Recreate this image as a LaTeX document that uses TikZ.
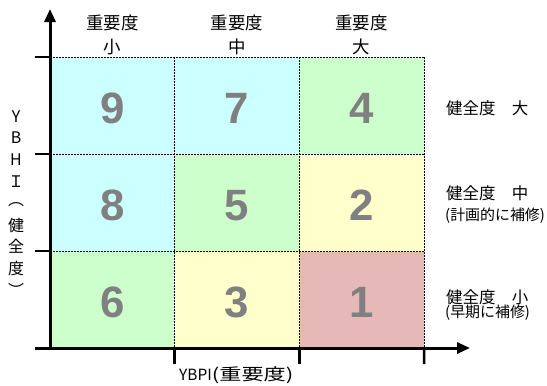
\documentclass[tikz,border=0pt]{standalone}
\usepackage{fontspec}
\setmainfont{Liberation Sans}
\newfontfamily\jp{Noto Sans CJK JP}
\newfontfamily\jpw[FakeStretch=1.35]{Noto Sans CJK JP}
\usetikzlibrary{arrows.meta}
\definecolor{cyanc}{HTML}{CCFFFF}
\definecolor{greenc}{HTML}{CCFFCC}
\definecolor{yellowc}{HTML}{FFFFCC}
\definecolor{pinkc}{HTML}{E6B8B7}
\definecolor{numgray}{HTML}{808080}
\begin{document}
\begin{tikzpicture}[x=1bp,y=-1bp,
  cell/.style={minimum width=124.7bp, minimum height=97bp, inner sep=0pt, outer sep=0pt,
    anchor=north west, text=numgray, text height=36bp, text depth=0pt,
    font=\fontsize{44}{44}\selectfont\bfseries},
  gridw/.style={white, line width=1bp},
  gridd/.style={black, line width=1bp, dash pattern=on 2bp off 1bp},
  axis/.style={black, line width=3bp},
  tick/.style={black, line width=2.5bp},
  tip/.style={-{Triangle[length=13bp,width=11bp]}},
  toplab/.style={font=\jp\fontsize{17.5}{17.5}\selectfont, inner sep=0pt},
  rlab/.style={font=\jp\fontsize{16.5}{16.5}\selectfont, inner sep=0pt, anchor=west},
  rsub/.style={font=\jp\fontsize{15}{15}\selectfont, inner sep=0pt, anchor=west},
  vlab/.style={font=\jp\fontsize{16}{16}\selectfont, inner sep=0pt},
  blab/.style={font=\jp\fontsize{15.5}{15.5}\selectfont, inner sep=0pt, anchor=west}]
\useasboundingbox (0,0) rectangle (547,385);
% cells
\node[cell, fill=cyanc]   (c11) at (50,57) {9};
\node[cell, fill=cyanc]   (c12) at (174.7,57) {7};
\node[cell, fill=greenc]  (c13) at (299.3,57) {4};
\node[cell, fill=cyanc]   (c21) at (50,154) {8};
\node[cell, fill=greenc]  (c22) at (174.7,154) {5};
\node[cell, fill=yellowc] (c23) at (299.3,154) {2};
\node[cell, fill=greenc]  (c31) at (50,251) {6};
\node[cell, fill=yellowc] (c32) at (174.7,251) {3};
\node[cell, fill=pinkc]   (c33) at (299.3,251) {1};
% dashed grid
\foreach \s in {gridw,gridd}{
  \draw[\s] (c11.north west) -- (c13.north east);
  \draw[\s] (c21.north west) -- (c23.north east);
  \draw[\s] (c31.north west) -- (c33.north east);
  \draw[\s] (c12.north west) -- (c32.south west);
  \draw[\s] (c13.north west) -- (c33.south west);
  \draw[\s] (c13.north east) -- (c33.south east);
}
% axes
\coordinate (o) at (50,349.5);
\coordinate (ytip) at (50,9);
\coordinate (xl) at (35,348);
\coordinate (xtip) at (470,348);
\draw[axis, tip] (o) -- (ytip);
\draw[axis, tip] (xl) -- (xtip);
% ticks
\coordinate (t1) at (35,57);
\coordinate (t2) at (35,154);
\coordinate (t3) at (35,251);
\draw[tick] (t1) -- (c11.north west);
\draw[tick] (t2) -- (c21.north west);
\draw[tick] (t3) -- (c31.north west);
\coordinate (b1) at (174.7,364);
\coordinate (b2) at (299.3,364);
\coordinate (b3) at (424,364);
\draw[tick] (c32.south west) -- (b1);
\draw[tick] (c33.south west) -- (b2);
\draw[tick] (c33.south east) -- (b3);
% top labels
\node[toplab] (h1) at (112.3,23) {重要度};
\node[toplab] (h1b) at (112.3,47) {小};
\node[toplab] (h2) at (237,23) {重要度};
\node[toplab] (h2b) at (237,47) {中};
\node[toplab] (h3) at (361.7,23) {重要度};
\node[toplab] (h3b) at (361.7,47) {大};
% right labels
\node[rlab] (r1) at (446,108) {健全度　大};
\node[rlab] (r2) at (446,193) {健全度　中};
\node[rsub] (r2b) at (445,216) {(計画的に補修)};
\node[rlab] (r3) at (446,297) {健全度　小};
\node[rsub] (r3b) at (445,313) {(早期に補修)};
% left vertical label
\node[vlab] (v1) at (16,117) {Y};
\node[vlab] (v2) at (16,138) {B};
\node[vlab] (v3) at (16,160) {H};
\node[vlab] (v4) at (16,182) {Ｉ};
\node[vlab] (v5) at (16,205) {︵};
\node[vlab] (v6) at (16,225) {健};
\node[vlab] (v7) at (16,246) {全};
\node[vlab] (v8) at (16,268) {度};
\node[vlab] (v9) at (16,290) {︶};
% bottom label
\node[blab] (bx) at (179,375) {YBPI{\jpw\fontsize{16.5}{16.5}\selectfont (重要度)}};
\end{tikzpicture}
\end{document}
